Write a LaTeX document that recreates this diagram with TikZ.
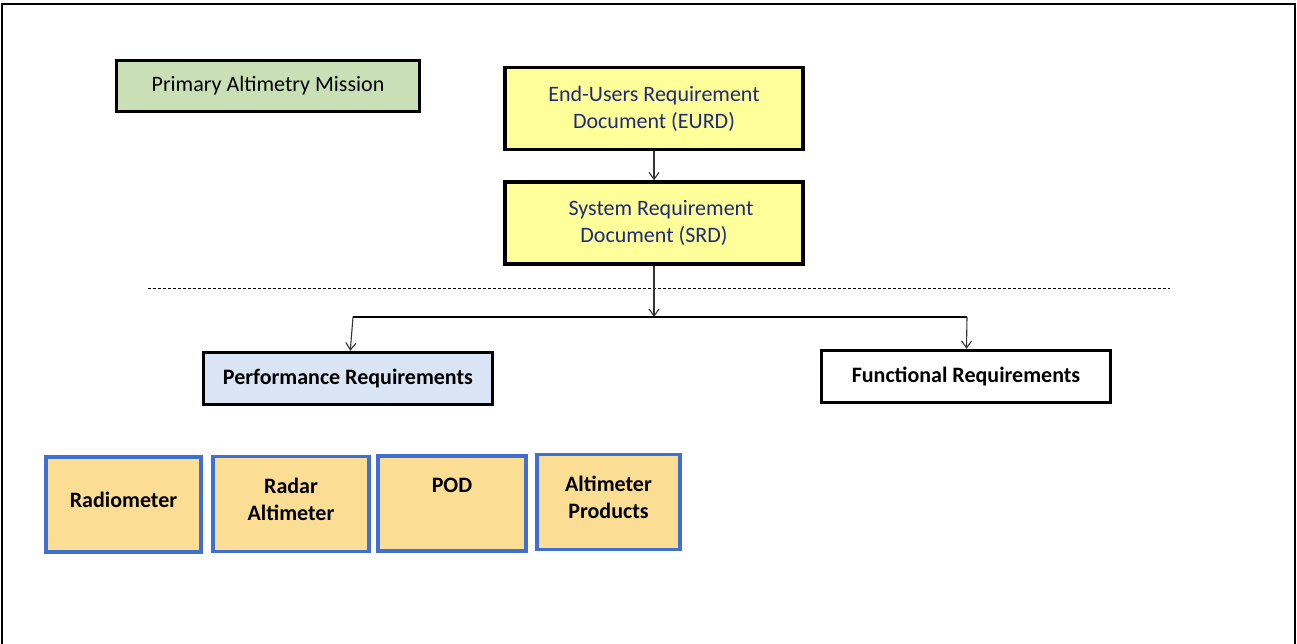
\documentclass[tikz,border=0pt]{standalone}
\usepackage{fontspec}
\setmainfont{Carlito}
\usetikzlibrary{arrows.meta}

\definecolor{mintbg}{HTML}{C9DFB5}
\definecolor{docyellow}{HTML}{FFFF99}
\definecolor{docblue}{HTML}{1F2A78}
\definecolor{perfblue}{HTML}{D9E4F5}
\definecolor{subfill}{HTML}{FBDD93}
\definecolor{subedge}{HTML}{3F6FD0}

\begin{document}
\begin{tikzpicture}[x=1pt, y=-1pt, >={Straight Barb[length=7pt,width=10pt]},
  box/.style={draw=black, line width=3.4pt, font=\fontsize{22}{27}\selectfont, align=center, inner sep=0pt},
  docbox/.style={box, fill=docyellow, text=docblue, minimum width=298, minimum height=82},
  reqbox/.style={box, font=\fontsize{22}{27}\selectfont\bfseries, minimum width=289, minimum height=52},
  subbox/.style={draw=subedge, line width=3.2pt, fill=subfill, align=center, inner sep=0pt,
    font=\fontsize{22}{27}\selectfont\bfseries, minimum height=95, text depth=10pt},
  link/.style={->, line width=1.1pt, draw=black!80}]

	\useasboundingbox (0,0) rectangle (1297,644);

	% frame
	\draw[line width=1.4pt] (2,648) -- (2,4) -- (1295,4) -- (1295,648);

	% mission
	\node[box, fill=mintbg, minimum width=303, minimum height=51] (prim) at (268,86) {Primary Altimetry Mission};

	% requirement documents
	\node[docbox] (eurd) at (654,108.5) {End-Users Requirement\\Document (EURD)};
	\node[docbox] (srd) at (654,223) {\hspace{14pt}System Requirement\\Document (SRD)};

	\draw[link] (eurd) -- (srd);

	% separator
	\draw[dashed, dash pattern=on 3pt off 2pt, line width=0.9pt] (148,288) -- (1170,288);

	% split
	\coordinate (mid) at (654,317);
	\coordinate (lft) at (353,317);
	\coordinate (rgt) at (967,317);

	\node[reqbox, fill=perfblue] (perf) at (348,378.5) {Performance Requirements};
	\node[reqbox, fill=white] (func) at (966,376.5) {Functional Requirements};

	\draw[link] (srd) -- (mid);
	\draw[line width=2.4pt] (lft) -- (rgt);
	\draw[link] (lft) -- (perf);
	\draw[link] (rgt) -- (func);

	% instruments
	\node[subbox, minimum width=155] (radio) at (123.5,504.5) {Radiometer};
	\node[subbox, minimum width=156] (radar) at (291,504) {Radar\\Altimeter};
	\node[subbox, minimum width=148] (pod) at (452,503.5) {POD\\\strut};
	\node[subbox, minimum width=143] (prod) at (608.5,502) {Altimeter\\Products};

\end{tikzpicture}
\end{document}
